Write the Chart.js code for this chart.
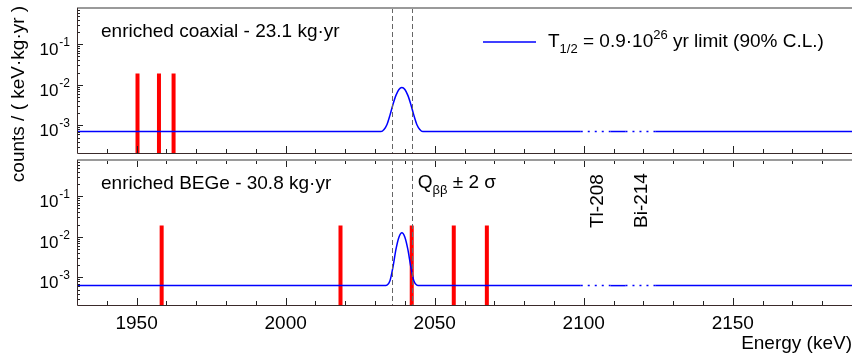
<!DOCTYPE html>
<html>
<head>
<meta charset="utf-8">
<script src="https://cdn.jsdelivr.net/npm/chart.js@4.4.0/dist/chart.umd.min.js"></script>
<style>
  body { margin: 0; background: #fff; }
  #wrap { position: relative; width: 852px; height: 353px; background: #fff; }
  #wrap canvas { position: absolute; left: 0; top: 0; }
</style>
</head>
<body>
<div id="wrap">
  <canvas id="coaxChart" width="852" height="353"></canvas>
  <canvas id="begeChart" width="852" height="353"></canvas>
</div>
<script>
// axis ranges (same for both panels)
const E_MIN = 1930, E_MAX = 2190;
const Y_MIN = 2.1e-4, Y_MAX = 0.78;
const E_TICKS = [1950, 2000, 2050, 2100, 2150];

// observed events (keV), drawn as red sticks
const coax_events = [1950.3, 1957.5, 1962.4];
const bege_events = [1958.4, 2018.4, 2042.3, 2056.4, 2067.5];
const event_height = 0.019;

// Qbb +- 2 sigma
const qbb_window = [2035.8, 2042.3];

// gamma lines cut out of the bkg window
const gamma_names = ['Tl-208', 'Bi-214'];
const gamma_energy = [2104, 2119];
const gamma_windows = [[2099, 2109], [2114, 2124]];

// T1/2 limit curve (flat bkg + peak)
const coax_curve_E = [1930, 2032, 2033, 2034, 2035, 2036, 2037, 2038, 2039, 2040, 2041, 2042, 2043, 2044, 2045, 2046, 2099, 2109, 2114, 2124, 2190];
const coax_curve_y = [7.1e-4, 7.1e-4, 8.0e-4, 1.06e-3, 1.8e-3, 3.3e-3, 5.5e-3, 7.7e-3, 8.6e-3, 7.7e-3, 5.5e-3, 3.3e-3, 1.8e-3, 1.06e-3, 8.0e-4, 7.1e-4, 7.1e-4, 7.1e-4, 7.1e-4, 7.1e-4, 7.1e-4];

const bege_curve_E = [1930, 2033, 2034, 2035, 2036, 2037, 2038, 2039, 2040, 2041, 2042, 2043, 2044, 2045, 2099, 2109, 2114, 2124, 2190];
const bege_curve_y = [6.3e-4, 6.3e-4, 6.5e-4, 8.3e-4, 1.8e-3, 4.9e-3, 9.8e-3, 1.26e-2, 9.8e-3, 4.9e-3, 1.8e-3, 8.3e-4, 6.5e-4, 6.3e-4, 6.3e-4, 6.3e-4, 6.3e-4, 6.3e-4, 6.3e-4];

const FONT = '"Liberation Sans", Arial, Helvetica, sans-serif';

function inGammaWindow(e0, e1) {
  return gamma_windows.some(w => e0 >= w[0] && e1 <= w[1]);
}

function curveData(es, ys) {
  return es.map((e, i) => ({ x: e, y: ys[i] }));
}

function eventData(events) {
  let d = [];
  events.forEach(e => {
    d.push({ x: e, y: Y_MIN }, { x: e, y: event_height }, { x: e, y: null });
  });
  return d;
}

// text with sub/superscripts: parts = [[text, mode]] mode 0 normal, 1 sub, 2 sup
function drawRuns(ctx, x, y, parts, size) {
  let cx = x;
  parts.forEach(p => {
    let s = p[1] ? Math.round(size * 0.68) : size;
    let dy = p[1] === 1 ? size * 0.33 : (p[1] === 2 ? -size * 0.42 : 0);
    ctx.font = s + 'px ' + FONT;
    ctx.fillText(p[0], cx, y + dy);
    cx += ctx.measureText(p[0]).width;
  });
}

const panelDecor = {
  id: 'panelDecor',
  afterDatasetsDraw(chart, args, opt) {
    const { ctx, chartArea: a } = chart;
    const x = chart.scales.x, y = chart.scales.y;
    ctx.save();

    // Qbb window lines
    ctx.strokeStyle = '#666';
    ctx.lineWidth = 1;
    ctx.setLineDash([5, 3]);
    qbb_window.forEach(e => {
      const px = Math.round(x.getPixelForValue(e)) + 0.5;
      ctx.beginPath();
      ctx.moveTo(px, a.top);
      ctx.lineTo(px, a.bottom);
      ctx.stroke();
    });
    ctx.setLineDash([]);

    // x ticks, every 10 keV
    ctx.strokeStyle = '#222';
    for (let e = E_MIN; e <= E_MAX; e += 10) {
      const px = Math.round(x.getPixelForValue(e)) + 0.5;
      const len = e % 50 === 0 ? 7 : 4;
      ctx.beginPath();
      ctx.moveTo(px, a.bottom);
      ctx.lineTo(px, a.bottom - len);
      if (opt.topTicks) {
        ctx.moveTo(px, a.top);
        ctx.lineTo(px, a.top + len);
      }
      ctx.stroke();
    }

    // y log ticks + labels
    ctx.fillStyle = '#000';
    ctx.textAlign = 'left';
    ctx.textBaseline = 'alphabetic';
    for (let p = -4; p <= 0; p++) {
      for (let k = 1; k <= 9; k++) {
        const v = k * Math.pow(10, p);
        if (v < Y_MIN || v > Y_MAX) continue;
        const py = Math.round(y.getPixelForValue(v)) + 0.5;
        ctx.beginPath();
        ctx.moveTo(a.left, py);
        ctx.lineTo(a.left + (k === 1 ? 6 : 3), py);
        ctx.stroke();
        if (k === 1) {
          ctx.font = '17px ' + FONT;
          const w1 = ctx.measureText('10').width;
          ctx.font = '12px ' + FONT;
          const w2 = ctx.measureText(String(p)).width;
          const x0 = a.left - 8 - w1 - w2;
          ctx.font = '17px ' + FONT;
          ctx.fillText('10', x0, py + 10);
          ctx.font = '12px ' + FONT;
          ctx.fillText(String(p), x0 + w1 + 1, py + 1);
        }
      }
    }

    // frame
    ctx.strokeStyle = '#9a9a9a';
    ctx.lineWidth = 2;
    ctx.beginPath();
    ctx.moveTo(a.left, a.top);
    ctx.lineTo(a.right, a.top);
    ctx.stroke();
    ctx.strokeStyle = '#3a2a2a';
    ctx.lineWidth = 1;
    ctx.beginPath();
    ctx.moveTo(a.left + 0.5, a.top);
    ctx.lineTo(a.left + 0.5, a.bottom + 0.5);
    ctx.lineTo(a.right, a.bottom + 0.5);
    ctx.stroke();

    // texts
    ctx.fillStyle = '#000';
    ctx.font = '19px ' + FONT;
    ctx.fillText(opt.label, a.left + 24, a.top + 29);

    if (opt.legend) {
      ctx.strokeStyle = '#0000ff';
      ctx.lineWidth = 1.5;
      ctx.beginPath();
      ctx.moveTo(483, a.top + 34);
      ctx.lineTo(536, a.top + 34);
      ctx.stroke();
      drawRuns(ctx, 548, a.top + 39, [['T', 0], ['1/2', 1], [' = 0.9\u00b710', 0], ['26', 2], [' yr limit (90% C.L.)', 0]], 19);
    }

    if (opt.yTitle) {
      ctx.save();
      ctx.translate(19, 94);
      ctx.rotate(-Math.PI / 2);
      ctx.textAlign = 'center';
      ctx.textBaseline = 'middle';
      ctx.font = '19px ' + FONT;
      ctx.fillText('counts / ( keV\u00b7kg\u00b7yr )', 0, 0);
      ctx.restore();
    }

    if (opt.qLabel) {
      const qx = x.getPixelForValue(qbb_window[1]) + 6;
      drawRuns(ctx, qx, a.top + 28, [['Q', 0], ['\u03b2\u03b2', 1], [' \u00b1 2 \u03c3', 0]], 19);
    }

    if (opt.gammaLabels) {
      ctx.font = '19px ' + FONT;
      gamma_names.forEach((n, i) => {
        const gx = x.getPixelForValue(gamma_energy[i]) + 7;
        ctx.save();
        ctx.translate(gx, a.top + 68);
        ctx.rotate(-Math.PI / 2);
        ctx.textAlign = 'left';
        ctx.fillText(n, 0, 0);
        ctx.restore();
      });
    }
    ctx.restore();
  }
};

function makeChart(id, curveE, curveY, events, decor, isBottom) {
  return new Chart(document.getElementById(id), {
    type: 'line',
    data: {
      datasets: [{
        label: 'T1/2 limit',
        data: curveData(curveE, curveY),
        borderColor: '#0000ff',
        borderWidth: 1.5,
        pointRadius: 0,
        cubicInterpolationMode: 'monotone',
        fill: false,
        order: 0,
        segment: {
          borderDash: c => inGammaWindow(c.p0.parsed.x, c.p1.parsed.x) ? [2, 5] : undefined
        }
      }, {
        label: 'events',
        data: eventData(events),
        borderColor: '#ff0000',
        borderWidth: 4,
        borderCapStyle: 'butt',
        pointRadius: 0,
        tension: 0,
        spanGaps: false,
        fill: false,
        order: 1
      }]
    },
    options: {
      responsive: false,
      animation: false,
      events: [],
      layout: { padding: isBottom ? { top: 160, bottom: 0, left: 0, right: 0 } : { top: 8, bottom: 200, left: 0, right: 0 } },
      plugins: {
        legend: { display: false },
        tooltip: { enabled: false },
        panelDecor: decor
      },
      scales: {
        x: {
          type: 'linear',
          min: E_MIN,
          max: E_MAX,
          display: isBottom,
          grid: { display: false, drawTicks: false },
          border: { display: false },
          afterBuildTicks: s => { s.ticks = E_TICKS.map(v => ({ value: v })); },
          ticks: {
            autoSkip: false,
            maxRotation: 0,
            padding: 7,
            color: '#000',
            font: { family: FONT, size: 19 },
            callback: v => String(v)
          },
          title: {
            display: true,
            text: 'Energy (keV)',
            align: 'end',
            color: '#000',
            font: { family: FONT, size: 19 },
            padding: { top: 0, bottom: -2 }
          },
          afterFit: s => { if (isBottom) s.height = 48; }
        },
        y: {
          type: 'logarithmic',
          min: Y_MIN,
          max: Y_MAX,
          grid: { display: false, drawTicks: false },
          border: { display: false },
          ticks: { display: false },
          afterFit: s => { s.width = 77; }
        }
      }
    },
    plugins: [panelDecor]
  });
}

makeChart('coaxChart', coax_curve_E, coax_curve_y, coax_events,
  { label: 'enriched coaxial - 23.1 kg\u00b7yr', legend: true, yTitle: true }, false);
makeChart('begeChart', bege_curve_E, bege_curve_y, bege_events,
  { label: 'enriched BEGe - 30.8 kg\u00b7yr', topTicks: true, qLabel: true, gammaLabels: true }, true);
</script>
</body>
</html>
